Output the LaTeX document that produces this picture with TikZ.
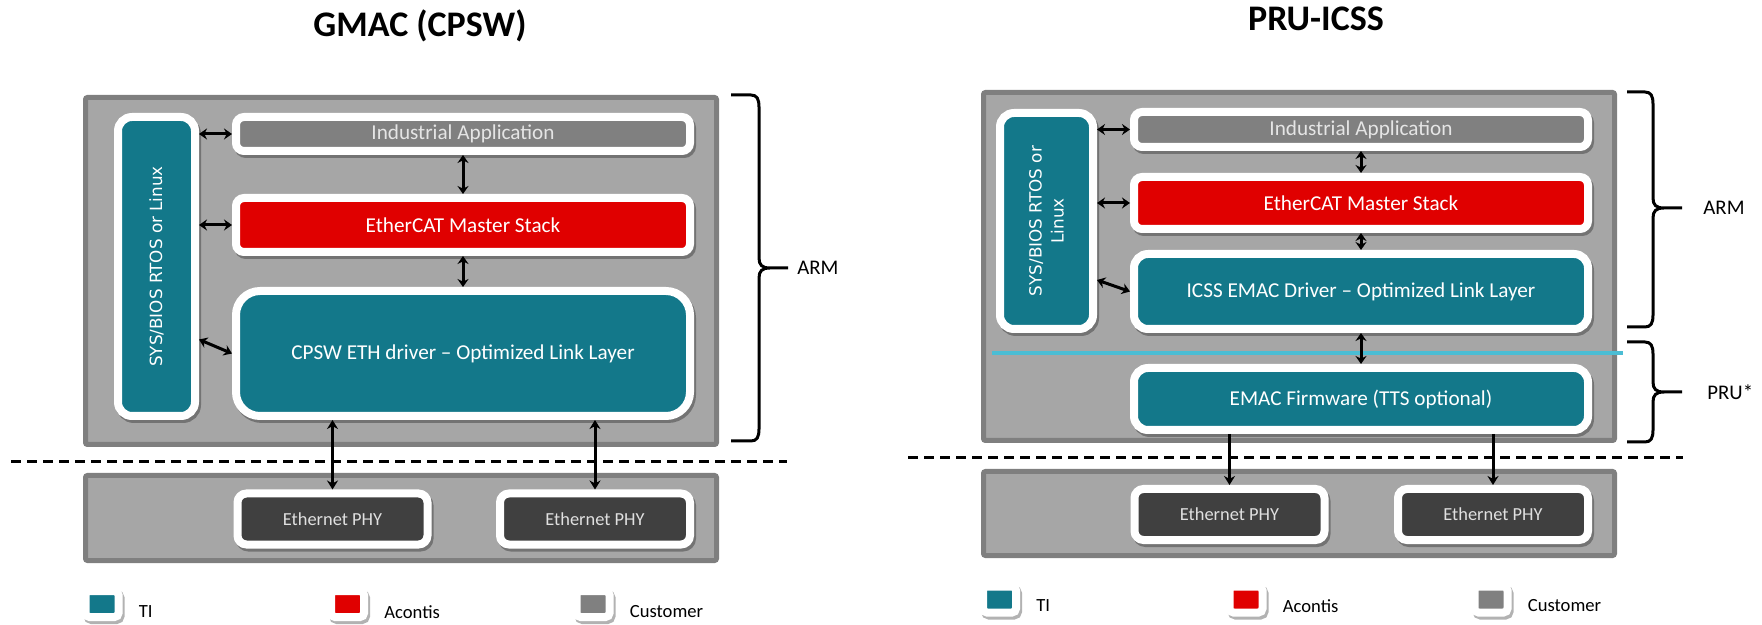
\documentclass[tikz,border=0pt]{standalone}
\usepackage{fontspec}
\setmainfont{Carlito}
\newfontfamily\sysfont{DejaVu Sans}
\usepackage{xcolor}
\usepackage{tikz}
\usetikzlibrary{arrows.meta, positioning, shadows}

\definecolor{tiTeal}{HTML}{13788A}
\definecolor{acRed}{HTML}{E00000}
\definecolor{custGray}{HTML}{808080}
\definecolor{panelFill}{HTML}{A6A6A6}
\definecolor{panelEdge}{HTML}{7F7F7F}
\definecolor{phyDark}{HTML}{404040}
\definecolor{pruLine}{HTML}{4BBDD4}

\begin{document}
\begin{tikzpicture}[x=0.5pt, y=-0.5pt,
  panel/.style={rectangle, draw=panelEdge, fill=panelFill, line width=2.5pt,
                rounded corners=1pt, inner sep=0pt},
  blk/.style={rectangle, rounded corners=4pt, draw=white, line width=4pt,
              inner sep=0pt, align=center, text=white,
              font=\fontsize{10.6}{12.5}\selectfont,
              drop shadow={shadow xshift=1pt, shadow yshift=-1.5pt,
                           fill=black, draw=black, opacity=0.3}},
  wide/.style={blk, minimum width=227pt},
  sysbox/.style={blk, fill=tiTeal, rotate=90, rounded corners=7pt,
                 font=\sysfont\fontsize{8.4}{11}\selectfont},
  phy/.style={blk, fill=phyDark, rounded corners=4.5pt, text=white!88!black,
              minimum width=95pt, minimum height=25.5pt,
              font=\fontsize{9.2}{11}\selectfont},
  key/.style={blk, rounded corners=2pt, minimum width=16.5pt, minimum height=13pt},
  keytext/.style={font=\fontsize{9.3}{11}\selectfont, inner sep=0pt},
  title/.style={font=\fontsize{18}{21}\selectfont\bfseries, inner sep=0pt, anchor=base},
  side/.style={font=\fontsize{10.4}{12}\selectfont, inner sep=0pt, anchor=west},
  link/.style={{Stealth[length=4pt,width=5.5pt]}-{Stealth[length=4pt,width=5.5pt]},
               line width=1.5pt},
  phylink/.style={{Stealth[length=4.5pt,width=5.5pt]}-{Stealth[length=4.5pt,width=5.5pt]},
                  line width=1.5pt},
  arr/.style={-{Stealth[length=4.5pt,width=5.5pt]}, line width=1.5pt},
  brc/.style={line width=1.5pt},
  split/.style={dash pattern=on 5pt off 3pt, line width=1.5pt},
]
  \useasboundingbox (0,0) rectangle (1762,625);

  % titles
  \node[title] (ttlL) at (420,37) {GMAC (CPSW)};
  \node[title] (ttlR) at (1316,31) {PRU-ICSS};

  % ---- GMAC (CPSW) ----
  \node[panel, minimum width=315.5pt, minimum height=173.5pt] (armL) at (401,271) {};
  \node[panel, minimum width=315.5pt, minimum height=42.5pt] (boardL) at (401,518) {};

  \node[sysbox, minimum width=149.5pt, minimum height=38.5pt] (sysL) at (156.5,266.5)
       {SYS/BIOS RTOS or Linux};
  \node[wide, fill=custGray, text=white!90!black, minimum height=17pt] (appL) at (463,134)
       {Industrial Application};
  \node[wide, fill=acRed, minimum height=27pt] (ecatL) at (463,225) {EtherCAT Master Stack};
  \node[wide, fill=tiTeal, rounded corners=12pt, minimum height=62.5pt] (cpsw) at (463,353.5)
       {CPSW ETH driver -- Optimized Link Layer};
  \node[phy] (phyL1) at (332.5,519) {Ethernet PHY};
  \node[phy] (phyL2) at (595,519) {Ethernet PHY};

  \draw[link] (sysL.south |- appL.west) -- (appL.west);
  \draw[link] (sysL.south |- ecatL.west) -- (ecatL.west);
  \draw[link] ([yshift=-36.5pt]sysL.south) -- (cpsw.west);
  \draw[link] (appL.south) -- (ecatL.north);
  \draw[link] (ecatL.south) -- (cpsw.north);
  \draw[phylink] (phyL1.north |- cpsw.south) -- (phyL1.north);
  \draw[phylink] (phyL2.north |- cpsw.south) -- (phyL2.north);

  \draw[split] (11,462) -- (787,462);
  \draw[brc] (731,95) -- (751,95) .. controls (757,95) and (759,99) .. (759,107)
    -- (759,258) .. controls (759,265) and (762,268) .. (770,268) -- (788,268)
    (770,268) .. controls (762,268) and (759,271) .. (759,278)
    -- (759,429) .. controls (759,437) and (757,441) .. (751,441) -- (731,441);
  \node[side] (armtxtL) at (797,268) {ARM};

  \node[key, fill=tiTeal] (keyTiL) at (102,604) {};
  \node[key, fill=acRed] (keyAcL) at (347.5,604) {};
  \node[key, fill=custGray] (keyCuL) at (593,604) {};
  \node[keytext, right=8pt of keyTiL, yshift=-4pt] (txtTiL) {TI};
  \node[keytext, right=8pt of keyAcL, yshift=-4pt] (txtAcL) {Acontis};
  \node[keytext, right=8pt of keyCuL, yshift=-4pt] (txtCuL) {Customer};

  % ---- PRU-ICSS ----
  \node[panel, minimum width=315.5pt, minimum height=174pt] (armR) at (1299,266.5) {};
  \node[panel, minimum width=315.5pt, minimum height=42pt] (boardR) at (1299,513.5) {};
  \draw[pruLine, line width=2pt] (992,353) -- (1623,353);

  \node[sysbox, minimum width=108pt, minimum height=46.5pt] (sysR) at (1046.5,221)
       {SYS/BIOS RTOS or\\Linux};
  \node[wide, fill=custGray, text=white!90!black, minimum height=17.5pt] (appR) at (1361,129.5)
       {Industrial Application};
  \node[wide, fill=acRed, minimum height=26pt] (ecatR) at (1361,203) {EtherCAT Master Stack};
  \node[wide, fill=tiTeal, rounded corners=7pt, minimum height=37.5pt] (icss) at (1361,291.5)
       {ICSS EMAC Driver -- Optimized Link Layer};
  \node[wide, fill=tiTeal, rounded corners=7pt, minimum height=31pt] (emacfw) at (1361,399)
       {EMAC Firmware (TTS optional)};
  \node[phy] (phyR1) at (1229.5,514.5) {Ethernet PHY};
  \node[phy] (phyR2) at (1493,514.5) {Ethernet PHY};

  \draw[link] (sysR.south |- appR.west) -- (appR.west);
  \draw[link] (sysR.south |- ecatR.west) -- (ecatR.west);
  \draw[link] ([yshift=-29.5pt]sysR.south) -- (icss.west);
  \draw[link] (appR.south) -- (ecatR.north);
  \draw[link] (ecatR.south) -- (icss.north);
  \draw[link] (icss.south) -- (emacfw.north);
  \draw[arr] (phyR1.north |- emacfw.south) -- (phyR1.north);
  \draw[arr] (phyR2.north |- emacfw.south) -- (phyR2.north);

  \draw[split] (908,458) -- (1683,458);
  \draw[brc] (1627,92) -- (1645,92) .. controls (1651,92) and (1653,96) .. (1653,104)
    -- (1653,198) .. controls (1653,205) and (1656,208) .. (1664,208) -- (1682,208)
    (1664,208) .. controls (1656,208) and (1653,211) .. (1653,218)
    -- (1653,315) .. controls (1653,323) and (1651,327) .. (1645,327) -- (1627,327);
  \draw[brc] (1627,342) -- (1645,342) .. controls (1651,342) and (1653,346) .. (1653,354)
    -- (1653,382) .. controls (1653,389) and (1656,392) .. (1664,392) -- (1682,392)
    (1664,392) .. controls (1656,392) and (1653,395) .. (1653,402)
    -- (1653,430) .. controls (1653,438) and (1651,442) .. (1645,442) -- (1627,442);
  \node[side] (armtxtR) at (1703,208) {ARM};
  \node[side] (prutxtR) at (1707,392) {PRU*};

  \node[key, fill=tiTeal] (keyTiR) at (999.5,599.5) {};
  \node[key, fill=acRed] (keyAcR) at (1246,599.5) {};
  \node[key, fill=custGray] (keyCuR) at (1491,599.5) {};
  \node[keytext, right=8pt of keyTiR, yshift=-3.25pt] (txtTiR) {TI};
  \node[keytext, right=8pt of keyAcR, yshift=-3.25pt] (txtAcR) {Acontis};
  \node[keytext, right=8pt of keyCuR, yshift=-3.25pt] (txtCuR) {Customer};
\end{tikzpicture}
\end{document}
